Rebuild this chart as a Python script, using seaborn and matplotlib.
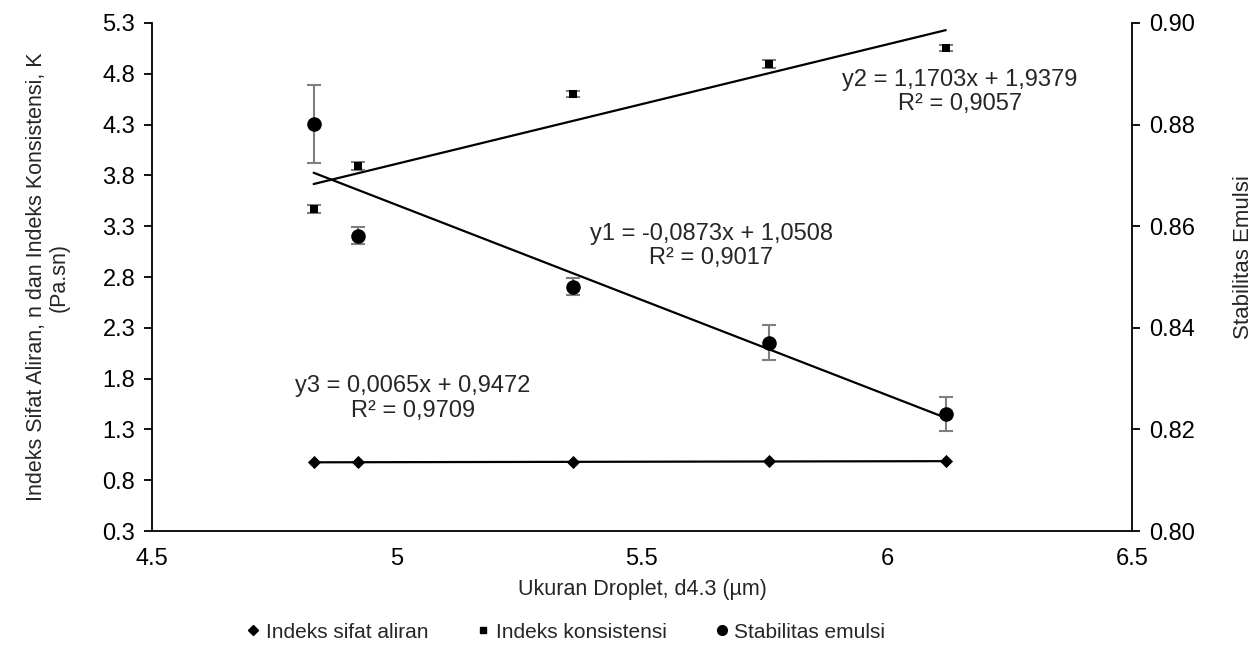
import numpy as np
import pandas as pd
import matplotlib
matplotlib.use("Agg")
import matplotlib.pyplot as plt
from matplotlib.lines import Line2D
import seaborn as sns

# ---- data ----
droplet = [4.83, 4.92, 5.36, 5.76, 6.12]
sifat_aliran = [0.975, 0.978, 0.981, 0.985, 0.987]
konsistensi = [3.47, 3.89, 4.60, 4.90, 5.05]
konsistensi_err = [0.04, 0.04, 0.03, 0.04, 0.03]
stabilitas = [0.8801, 0.8581, 0.8481, 0.8371, 0.8230]
stabilitas_err = [0.0076, 0.0017, 0.0017, 0.0034, 0.0034]

left_ticks = [0.3, 0.8, 1.3, 1.8, 2.3, 2.8, 3.3, 3.8, 4.3, 4.8, 5.3]
right_ticks = [0.80, 0.82, 0.84, 0.86, 0.88, 0.90]
x_ticks = [4.5, 5, 5.5, 6, 6.5]
x_ticklabels = ["4.5", "5", "5.5", "6", "6.5"]

eq_y1 = "y1 = -0,0873x + 1,0508\nR² = 0,9017"
eq_y2 = "y2 = 1,1703x + 1,9379\nR² = 0,9057"
eq_y3 = "y3 = 0,0065x + 0,9472\nR² = 0,9709"
legend_labels = ["Indeks sifat aliran", "Indeks konsistensi", "Stabilitas emulsi"]

df = pd.DataFrame({"x": droplet, "n": sifat_aliran, "k": konsistensi,
                   "k_err": konsistensi_err, "s": stabilitas, "s_err": stabilitas_err})

sns.set_style("white")
plt.rcParams["font.family"] = ["Liberation Sans", "DejaVu Sans"]

fig, ax = plt.subplots(figsize=(12.59, 6.53), dpi=100)
fig.subplots_adjust(left=0.1207, right=0.8991, top=0.9648, bottom=0.1868)
ax2 = ax.twinx()

err_col = "#7f7f7f"

# Indeks sifat aliran (diamonds) + trend line
sns.regplot(data=df, x="x", y="n", ax=ax, scatter=False, ci=None,
            line_kws=dict(color="black", lw=1.6))
sns.scatterplot(data=df, x="x", y="n", ax=ax, marker="D", s=45,
                color="black", edgecolor="black", linewidth=0, zorder=5)

# Indeks konsistensi (squares) + error bars + trend line
ax.errorbar(df["x"], df["k"], yerr=df["k_err"], fmt="none", ecolor=err_col,
            elinewidth=1.5, capsize=5, capthick=1.5, zorder=3)
sns.regplot(data=df, x="x", y="k", ax=ax, scatter=False, ci=None,
            line_kws=dict(color="black", lw=1.6))
sns.scatterplot(data=df, x="x", y="k", ax=ax, marker="s", s=40,
                color="black", edgecolor="black", linewidth=0, zorder=5)

# Stabilitas emulsi (circles) on right axis
ax2.errorbar(df["x"], df["s"], yerr=df["s_err"], fmt="none", ecolor=err_col,
             elinewidth=1.5, capsize=5, capthick=1.5, zorder=3)
sns.regplot(data=df, x="x", y="s", ax=ax2, scatter=False, ci=None,
            line_kws=dict(color="black", lw=1.6))
sns.scatterplot(data=df, x="x", y="s", ax=ax2, marker="o", s=110,
                color="black", edgecolor="black", linewidth=0, zorder=5)

# axes
ax.set_xlim(4.5, 6.5)
ax.set_ylim(0.3, 5.3)
ax2.set_ylim(0.80, 0.90)
ax.set_xticks(x_ticks)
ax.set_xticklabels(x_ticklabels)
ax.set_yticks(left_ticks)
ax.set_yticklabels([f"{v:.1f}" for v in left_ticks])
ax2.set_yticks(right_ticks)
ax2.set_yticklabels([f"{v:.2f}" for v in right_ticks])

for a in (ax, ax2):
    a.spines["top"].set_visible(False)
    for s in ("left", "right", "bottom"):
        a.spines[s].set_color("black")
        a.spines[s].set_linewidth(1.3)
    a.tick_params(axis="both", direction="out", length=6, width=1.3,
                  color="black", labelsize=17, labelcolor="black", pad=6)
ax.spines["right"].set_visible(False)
ax2.spines["left"].set_visible(False)
ax2.spines["bottom"].set_visible(False)

ax.set_xlabel("Ukuran Droplet, d4.3 (µm)", fontsize=15.5, labelpad=7)
ax.set_ylabel("Indeks Sifat Aliran, n dan Indeks Konsistensi, K\n(Pa.sn)",
              fontsize=15.5, labelpad=24, linespacing=1.1)
ax2.set_ylabel("Stabilitas Emulsi", fontsize=16)
ax2.yaxis.set_label_coords(1.103, 0.54)

# trend equations
ax.text(6.149, 4.62, eq_y2, ha="center", va="center", fontsize=17, linespacing=1.15)
ax.text(5.642, 3.105, eq_y1, ha="center", va="center", fontsize=17, linespacing=1.15)
ax.text(5.033, 1.604, eq_y3, ha="center", va="center", fontsize=17, linespacing=1.15)

# legend
handles = [
    Line2D([], [], ls="none", marker="D", ms=5, color="black"),
    Line2D([], [], ls="none", marker="s", ms=5, color="black"),
    Line2D([], [], ls="none", marker="o", ms=7, color="black"),
]
fig.legend(handles, legend_labels, loc="center left", bbox_to_anchor=(0.196, 0.032),
           ncol=3, frameon=False, fontsize=15, handlelength=0.6, handletextpad=0.3,
           columnspacing=2.35, borderaxespad=0, borderpad=0)

fig.savefig("out.png", dpi=100)
